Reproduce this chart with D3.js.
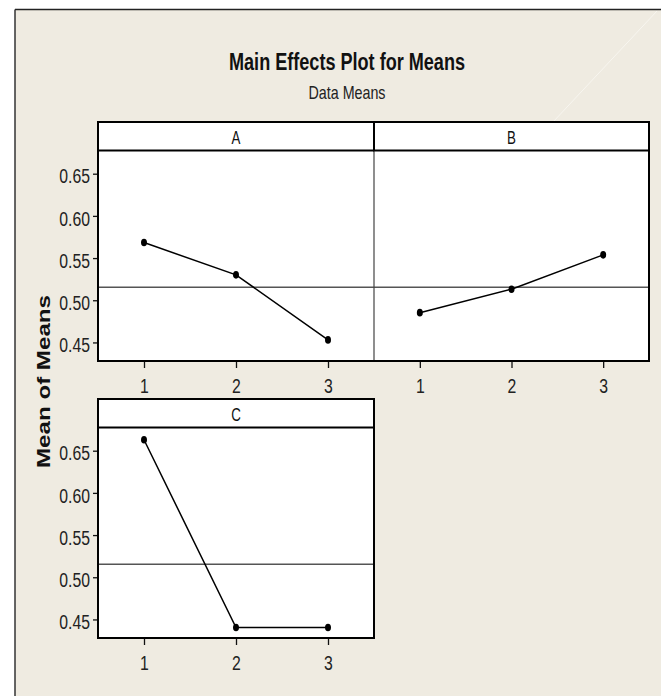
<!DOCTYPE html>
<html>
<head>
<meta charset="utf-8">
<script src="https://cdn.jsdelivr.net/npm/d3@7"></script>
<style>
  html, body { margin: 0; padding: 0; background: #ffffff; }
  svg { display: block; }
</style>
</head>
<body>
<div id="chart"></div>
<script>
// ---- data ----
const factors = ["A", "B", "C"];
const levels = [1, 2, 3];
const meansA = [0.5684, 0.5301, 0.4530];
const meansB = [0.4853, 0.5131, 0.5538];
const meansC = [0.6630, 0.4404, 0.4404];
const grandMean = 0.5155;
const yTicks = [0.45, 0.50, 0.55, 0.60, 0.65];
const titleText = "Main Effects Plot for Means";
const subtitleText = "Data Means";
const yLabelText = "Mean of Means";

const seriesByFactor = { A: meansA, B: meansB, C: meansC };

// ---- layout ----
const W = 661, H = 696;
const baseFont = "'Liberation Sans', Arial, sans-serif";
const svg = d3.select("#chart").append("svg").attr("width", W).attr("height", H);

// condense text horizontally to mimic a narrow face
function narrowify(sel, ratio) {
  sel.each(function () {
    const L = this.getComputedTextLength();
    d3.select(this).attr("textLength", L * (ratio || 0.8)).attr("lengthAdjust", "spacingAndGlyphs");
  });
}

// page background and frame
svg.append("rect").attr("x", 15).attr("y", 9.5).attr("width", W - 15).attr("height", H - 9.5)
  .attr("fill", "#efebe1");
svg.append("line").attr("x1", 15).attr("y1", 9.5).attr("x2", W).attr("y2", 9.5)
  .attr("stroke", "#222").attr("stroke-width", 1.5);
svg.append("line").attr("x1", 15).attr("y1", 9.5).attr("x2", 15).attr("y2", H)
  .attr("stroke", "#333").attr("stroke-width", 1.5);
// faint diagonal sheen
svg.append("line").attr("x1", 657).attr("y1", 11).attr("x2", 553).attr("y2", 122)
  .attr("stroke", "#f8f6f0").attr("stroke-width", 1);

// titles
svg.append("text").attr("x", 347).attr("y", 69.5).attr("text-anchor", "middle")
  .attr("font-family", baseFont).attr("font-weight", "bold").attr("font-size", 23)
  .attr("textLength", 236).attr("lengthAdjust", "spacingAndGlyphs")
  .attr("fill", "#111").text(titleText);
svg.append("text").attr("x", 347).attr("y", 99).attr("text-anchor", "middle")
  .attr("font-family", baseFont).attr("font-size", 19)
  .attr("textLength", 77).attr("lengthAdjust", "spacingAndGlyphs")
  .attr("fill", "#222").text(subtitleText);

// y label
svg.append("text").attr("transform", "translate(50,381.5) rotate(-90)")
  .attr("text-anchor", "middle")
  .attr("font-family", baseFont).attr("font-weight", "bold")
  .attr("font-size", 17.5).attr("textLength", 173).attr("lengthAdjust", "spacingAndGlyphs")
  .attr("fill", "#111").text(yLabelText);

// panel grid
const colX = [98, 374];
const colW = [276, 275];
const rowTop = [122, 399];
const headerH = 28.5;
const plotH = 210.5;
const yDomain = [0.428, 0.6775];

const panels = factors.map((f, i) => ({
  factor: f, col: i % 2, row: Math.floor(i / 2), values: seriesByFactor[f]
}));

panels.forEach(p => {
  const x0 = colX[p.col], w = colW[p.col];
  const top = rowTop[p.row];
  const plotTop = top + headerH, plotBottom = plotTop + plotH;
  const g = svg.append("g");

  const x = d3.scaleLinear().domain([0.5, 3.5]).range([x0, x0 + w]);
  const y = d3.scaleLinear().domain(yDomain).range([plotBottom, plotTop]);

  // plot background
  g.append("rect").attr("x", x0).attr("y", plotTop).attr("width", w).attr("height", plotH)
    .attr("fill", "#ffffff");

  // mean reference line
  g.append("line").attr("x1", x0).attr("x2", x0 + w)
    .attr("y1", y(grandMean)).attr("y2", y(grandMean))
    .attr("stroke", "#555").attr("stroke-width", 1.5);

  // data line
  const pts = levels.map((l, k) => [l, p.values[k]]);
  g.append("path").datum(pts)
    .attr("d", d3.line().x(d => x(d[0])).y(d => y(d[1])))
    .attr("fill", "none").attr("stroke", "#000").attr("stroke-width", 1.5);
  g.selectAll("ellipse").data(pts).join("ellipse")
    .attr("cx", d => x(d[0])).attr("cy", d => y(d[1]))
    .attr("rx", 3).attr("ry", 3.8).attr("fill", "#000");

  // x axis
  const xa = g.append("g").attr("transform", `translate(0,${plotBottom})`)
    .call(d3.axisBottom(x).tickValues(levels).tickFormat(d3.format("d"))
      .tickSize(7).tickSizeOuter(0).tickPadding(10));
  xa.select(".domain").remove();
  xa.selectAll("line").attr("stroke", "#111").attr("stroke-width", 1.3);
  xa.selectAll("text").attr("font-family", baseFont).attr("font-size", 20.5).attr("fill", "#222")
    .call(narrowify, 0.77);

  // y axis (left column only)
  if (p.col === 0) {
    const ya = g.append("g").attr("transform", `translate(${x0},0)`)
      .call(d3.axisLeft(y).tickValues(yTicks).tickFormat(d3.format(".2f"))
        .tickSize(5).tickSizeOuter(0).tickPadding(3));
    ya.select(".domain").remove();
    ya.selectAll("line").attr("stroke", "#111").attr("stroke-width", 1.3);
    ya.selectAll("text").attr("font-family", baseFont).attr("font-size", 20.5)
      .attr("dy", "0.45em").attr("fill", "#222")
      .call(narrowify, 0.77);
  }

  // plot frame: black on outer edges, thin gray where panels share an edge
  const hasLeftNeighbour = p.col === 1;
  const hasRightNeighbour = p.col === 0 && panels.some(q => q.row === p.row && q.col === 1);
  g.append("line").attr("x1", x0).attr("x2", x0).attr("y1", plotTop).attr("y2", plotBottom)
    .attr("stroke", hasLeftNeighbour ? "#444" : "#000").attr("stroke-width", hasLeftNeighbour ? 1.2 : 2);
  if (!hasRightNeighbour) {
    g.append("line").attr("x1", x0 + w).attr("x2", x0 + w).attr("y1", plotTop).attr("y2", plotBottom)
      .attr("stroke", "#000").attr("stroke-width", 2);
  }
  g.append("line").attr("x1", x0 - 1).attr("x2", x0 + w + 1).attr("y1", plotBottom).attr("y2", plotBottom)
    .attr("stroke", "#000").attr("stroke-width", 2);

  // header strip
  g.append("rect").attr("x", x0).attr("y", top).attr("width", w).attr("height", headerH)
    .attr("fill", "#ffffff").attr("stroke", "#000").attr("stroke-width", 2);
  g.append("text").attr("x", x0 + w / 2).attr("y", top + 22).attr("text-anchor", "middle")
    .attr("font-family", baseFont).attr("font-size", 18).attr("fill", "#111").text(p.factor)
    .call(narrowify, 0.74);
});
</script>
</body>
</html>
